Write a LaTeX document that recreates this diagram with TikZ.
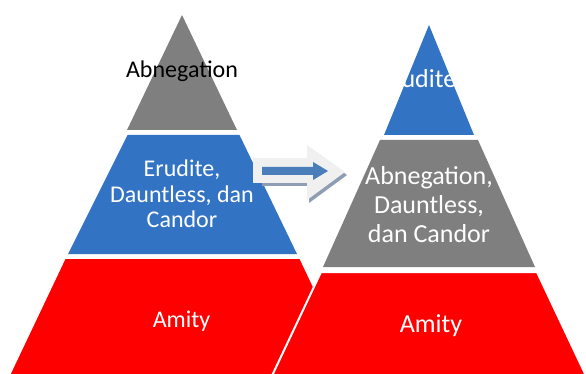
\documentclass[tikz,border=0pt]{standalone}
\usepackage{fontspec}
\setmainfont{Carlito}
\definecolor{pgray}{HTML}{7F7F7F}
\definecolor{pblue}{HTML}{3373C4}
\definecolor{pred}{HTML}{FF0000}
\definecolor{arrlight}{HTML}{F0F0F0}
\definecolor{arrblue}{HTML}{4A7EBB}
\definecolor{arrshadow}{HTML}{8E9CB4}
\begin{document}
\begin{tikzpicture}[x=1pt,y=-1pt,
  lbl/.style={inner sep=0pt,text=white,align=center},
  fsmall/.style={font=\fontsize{24}{25.5}\selectfont},
  fbig/.style={font=\fontsize{26}{29}\selectfont}]
\useasboundingbox (0,0) rectangle (586,374);
\begin{scope}
\clip (0,0) rectangle (586,374);
% left pyramid
\fill[pgray] (182,15) -- (237,130) -- (127,130) -- cycle;
\fill[pblue] (127.5,135) -- (239.5,135) -- (297,254) -- (68,254) -- cycle;
\fill[pred] (65.5,259) -- (299.5,259) -- (357,380) -- (8,380) -- cycle;
% right pyramid
\fill[pblue] (429,25) -- (474,135) -- (384,135) -- cycle;
\fill[pgray] (380,140) -- (478,140) -- (535,267) -- (323,267) -- cycle;
\filldraw[fill=pred, draw=white, line width=2pt] (321,272) -- (537,272) -- (588,380) -- (270,380) -- cycle;
% arrow
\fill[arrshadow] (262,161) -- (309,161) -- (309,148) -- (347,175) -- (309,203) -- (309,186) -- (262,186) -- cycle;
\fill[arrlight] (253,158) -- (307,158) -- (307,145) -- (345,172) -- (307,200) -- (307,183) -- (253,183) -- cycle;
\fill[arrblue] (262,167) -- (313,167) -- (313,162) -- (328,171) -- (313,180) -- (313,175) -- (262,175) -- cycle;
\end{scope}
% labels
\node[lbl,fsmall,text=black,anchor=base] (abn1) at (182,78) {Abnegation};
\node[lbl,fsmall] (mid1) at (182,194) {Erudite,\\Dauntless, dan\\Candor};
\node[lbl,fsmall,anchor=base] (ami1) at (181.5,327) {Amity};
\node[lbl,fbig,anchor=base] (eru2) at (418,88) {Erudite};
\node[lbl,fbig] (mid2) at (429,205) {Abnegation,\\Dauntless,\\dan Candor};
\node[lbl,fbig,anchor=base] (ami2) at (431,332) {Amity};
\end{tikzpicture}
\end{document}
